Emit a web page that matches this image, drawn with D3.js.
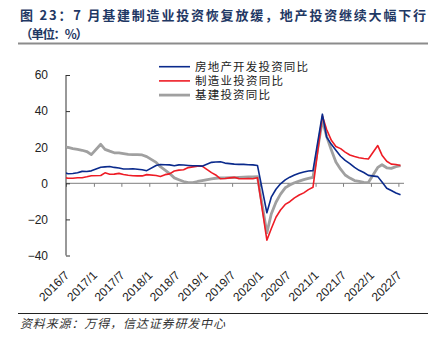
<!DOCTYPE html>
<html>
<head>
<meta charset="utf-8">
<script src="https://cdn.jsdelivr.net/npm/d3@7"></script>
<style>
  html, body { margin: 0; padding: 0; background: #fff; }
  svg { display: block; }
</style>
</head>
<body>
<svg id="chart" width="439" height="344"></svg>
<script>
// ---- Data (cumulative YoY, %; Jan is not published) ----
const months = [
  "2016/06","2016/07","2016/08","2016/09","2016/10","2016/11","2016/12",
  "2017/02","2017/03","2017/04","2017/05","2017/06","2017/07","2017/08","2017/09","2017/10","2017/11","2017/12",
  "2018/02","2018/03","2018/04","2018/05","2018/06","2018/07","2018/08","2018/09","2018/10","2018/11","2018/12",
  "2019/02","2019/03","2019/04","2019/05","2019/06","2019/07","2019/08","2019/09","2019/10","2019/11","2019/12",
  "2020/02","2020/03","2020/04","2020/05","2020/06","2020/07","2020/08","2020/09","2020/10","2020/11","2020/12",
  "2021/02","2021/03","2021/04","2021/05","2021/06","2021/07","2021/08","2021/09","2021/10","2021/11","2021/12",
  "2022/02","2022/03","2022/04","2022/05","2022/06","2022/07"
];
const realEstate = [
  6.1, 5.3, 5.4, 5.8, 6.6, 6.5, 6.9,
  8.9, 9.1, 9.3, 8.8, 8.5, 7.9, 7.9, 8.1, 7.8, 7.5, 7.0,
  9.9, 10.4, 10.3, 10.2, 9.7, 10.2, 10.1, 9.9, 9.7, 9.7, 9.5,
  11.6, 11.8, 11.9, 11.2, 10.9, 10.6, 10.5, 10.5, 10.3, 10.2, 9.9,
  -16.3, -7.7, -3.3, -0.3, 1.9, 3.4, 4.6, 5.6, 6.3, 6.8, 7.0,
  38.3, 25.6, 21.6, 18.3, 15.0, 12.7, 10.9, 8.8, 7.2, 6.0, 4.4,
  3.7, 0.7, -2.7, -4.0, -5.4, -6.4
];
const manufacturing = [
  3.3, 2.8, 2.8, 3.1, 3.1, 3.6, 4.2,
  4.3, 5.8, 5.0, 5.1, 5.5, 4.9, 4.5, 4.2, 4.1, 4.1, 4.8,
  4.3, 3.8, 4.8, 5.2, 6.8, 7.3, 7.5, 8.7, 9.1, 9.5, 9.5,
  5.9, 4.6, 2.5, 2.7, 3.0, 3.3, 2.6, 2.5, 2.6, 2.5, 3.1,
  -31.5, -25.2, -18.8, -14.8, -11.7, -10.2, -8.1, -6.5, -5.3, -3.5, -2.2,
  37.3, 29.8, 23.8, 20.4, 19.2, 17.3, 15.7, 14.8, 14.2, 13.7, 13.5,
  20.9, 15.6, 12.2, 10.6, 10.4, 9.9
];
const infrastructure = [
  20.3, 19.9, 19.2, 18.8, 18.3, 17.6, 15.9,
  21.6, 18.8, 17.8, 16.9, 16.8, 16.4, 16.0, 15.9, 15.9, 15.7, 14.8,
  11.6, 9.2, 7.3, 5.4, 3.0, 2.0, 1.0, 0.4, 0.4, 1.0, 1.5,
  2.5, 2.8, 3.0, 3.0, 3.1, 3.2, 3.3, 3.4, 3.5, 3.6, 3.7,
  -27.5, -17.0, -10.5, -6.0, -2.5, -1.0, 0.3, 1.2, 2.0, 2.7, 3.3,
  35.0, 26.0, 18.4, 11.8, 7.8, 4.6, 2.9, 1.5, 1.0, 0.5, 0.4,
  8.8, 10.3, 8.6, 8.3, 9.2, 9.8
];
const seriesNames = ["房地产开发投资同比", "制造业投资同比", "基建投资同比"];
const seriesColors = ["#0a2a8c", "#ee1c25", "#a0a0a0"];
const seriesWidths = [1.6, 1.6, 2.8];
const yTicks = [-40, -20, 0, 20, 40, 60];
const xTickLabels = ["2016/7","2017/1","2017/7","2018/1","2018/7","2019/1","2019/7",
                     "2020/1","2020/7","2021/1","2021/7","2022/1","2022/7"];
const titleLine1 = "图 23：7 月基建制造业投资恢复放缓，地产投资继续大幅下行";
const titleLine2 = "（单位：%）";
const sourceText = "资料来源：万得，信达证券研发中心";

// ---- Layout ----
const svg = d3.select("#chart");
const CJK = "'Noto Sans CJK SC', 'Noto Sans', sans-serif";
const LAT = "'Liberation Sans', Arial, sans-serif";
const LAT_CJK = "'Liberation Sans', 'Noto Sans CJK SC', sans-serif";
const plotLeft = 66, plotRight = 404, plotTop = 70, plotBottom = 262;

svg.append("rect").attr("width", 439).attr("height", 344).attr("fill", "#fff");

// Title
svg.append("text").attr("x", 20).attr("y", 20)
  .attr("font-family", CJK).attr("font-size", 13).attr("font-weight", "bold")
  .attr("fill", "#1f3864").attr("textLength", 406).attr("lengthAdjust", "spacing")
  .text(titleLine1);
svg.append("text").attr("x", 20).attr("y", 38.5)
  .attr("font-family", CJK).attr("font-size", 12.5).attr("font-weight", "bold")
  .attr("fill", "#1f3864").attr("textLength", 68).attr("lengthAdjust", "spacing")
  .text(titleLine2);
svg.append("line").attr("x1", 18).attr("x2", 428).attr("y1", 43.5).attr("y2", 43.5)
  .attr("stroke", "#8c8c8c").attr("stroke-width", 2);

// Scales
const parseM = d3.timeParse("%Y/%m");
const dates = months.map(m => { const d = parseM(m); return new Date(d.getFullYear(), d.getMonth(), 15); });
const tickDates = xTickLabels.map(t => parseM(t));
const x = d3.scaleTime()
  .domain([tickDates[0], tickDates[tickDates.length - 1]])
  .range([66, 398.4]);
const y = d3.scaleLinear().domain([-40, 60]).range([255.5, 75]);

// Clip
svg.append("defs").append("clipPath").attr("id", "plotclip")
  .append("rect").attr("x", plotLeft).attr("y", plotTop)
  .attr("width", plotRight - plotLeft + 6).attr("height", plotBottom - plotTop);

// X axis (at zero)
const xAxisG = svg.append("g").attr("transform", `translate(0,${y(0)})`)
  .call(d3.axisBottom(x).tickValues(tickDates).tickSize(3.5).tickFormat(""));
xAxisG.select(".domain").remove();
xAxisG.selectAll(".tick line").attr("stroke", "#7f7f7f");
xAxisG.append("line").attr("x1", plotLeft).attr("x2", plotRight).attr("y1", 0).attr("y2", 0)
  .attr("stroke", "#7f7f7f").attr("stroke-width", 1);

// X labels (rotated)
svg.append("g").selectAll("text").data(tickDates).join("text")
  .attr("transform", (d) => `translate(${x(d) + 1},${273}) rotate(-45)`)
  .attr("text-anchor", "end").attr("dy", "0.35em")
  .attr("font-family", LAT).attr("font-size", 12).attr("fill", "#222")
  .text((d, i) => xTickLabels[i]);

// Y axis
const yAxisG = svg.append("g").attr("transform", `translate(${plotLeft},0)`)
  .call(d3.axisLeft(y).tickValues(yTicks).tickSize(-4).tickPadding(18)
        .tickFormat(d => d < 0 ? "−" + Math.abs(d) : d));
yAxisG.select(".domain").attr("stroke", "#333").attr("d", `M0,${y(60)}V${y(-40)}`);
yAxisG.selectAll(".tick line").attr("stroke", "#333");
yAxisG.selectAll(".tick text").attr("font-family", LAT).attr("font-size", 12).attr("fill", "#222");

// Lines
const seriesData = [realEstate, manufacturing, infrastructure];
const line = d3.line().x(d => x(d[0])).y(d => y(d[1]));
const drawOrder = [2, 1, 0];
const linesG = svg.append("g").attr("clip-path", "url(#plotclip)");
drawOrder.forEach(k => {
  linesG.append("path")
    .datum(dates.map((d, i) => [d, seriesData[k][i]]))
    .attr("fill", "none").attr("stroke", seriesColors[k])
    .attr("stroke-width", seriesWidths[k]).attr("stroke-linejoin", "round")
    .attr("d", line);
});

// Legend
const legG = svg.append("g");
const legLens = [113, 88, 75];
const legTop = 66.7, legStep = 14.2;
seriesNames.forEach((name, i) => {
  const ly = legTop + i * legStep;
  legG.append("line").attr("x1", 159).attr("x2", 190).attr("y1", ly).attr("y2", ly)
    .attr("stroke", seriesColors[i]).attr("stroke-width", seriesWidths[i]);
  legG.append("text").attr("x", 195).attr("y", ly + 4)
    .attr("font-family", LAT_CJK).attr("font-size", 11.5).attr("fill", "#222")
    .attr("textLength", legLens[i]).attr("lengthAdjust", "spacing")
    .text(name);
});

// Bottom rule and source
svg.append("line").attr("x1", 18).attr("x2", 428).attr("y1", 313.5).attr("y2", 313.5)
  .attr("stroke", "#222").attr("stroke-width", 1);
svg.append("text").attr("x", 20).attr("y", 327.5)
  .attr("font-family", CJK).attr("font-size", 12).attr("font-style", "italic")
  .attr("fill", "#333").attr("textLength", 205).attr("lengthAdjust", "spacing")
  .text(sourceText);
</script>
</body>
</html>
